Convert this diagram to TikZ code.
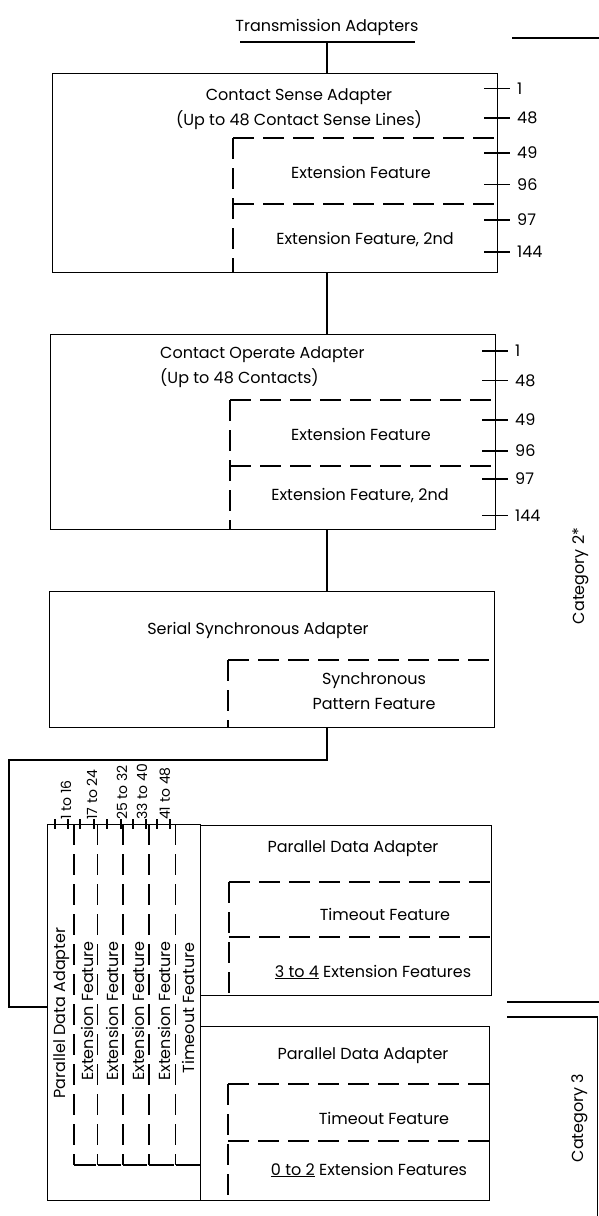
\documentclass[tikz,border=0pt]{standalone}
\usepackage{fontspec}
\setmainfont{Poppins}
\begin{document}
\begin{tikzpicture}[x=1pt,y=-1pt,
  every node/.style={font=\fontsize{16}{25}\selectfont, inner sep=0pt},
  solidbox/.style={draw, line width=1.1pt, anchor=north west},
  dsh/.style={line width=1.1pt, dash pattern=on 21pt off 9pt},
  ln/.style={line width=1.1pt},
  rot/.style={rotate=90},
  small/.style={font=\fontsize{14}{18}\selectfont}]
\useasboundingbox (0,0) rectangle (599,1216);

% title
\node (title) at (327,27) {Transmission Adapters};
\draw[ln] (240,42) -- (415,42);
\coordinate (tbase) at (327,42);

% ---------- box 1 ----------
\node[solidbox, minimum width=445.4pt, minimum height=199.4pt] (box1) at (51.6,72.6) {};
\draw[ln] (tbase) -- (tbase |- box1.north);
\node[align=center] (cs) at (299,109.5) {Contact Sense Adapter\\(Up to 48 Contact Sense Lines)};
\draw[dsh] (233,138) -- (497,138);
\draw[dsh] (233,138) -- (233,272);
\draw[dsh] (233,204) -- (497,204);
\node (e1a) at (361,172) {Extension Feature};
\node (e1b) at (365,240) {Extension Feature, 2nd};
\foreach \yy/\lab in {88.6/1,118/48,153/49,184.5/96,220/97,252/144}{
  \draw[ln] (484,\yy) -- (510,\yy);
  \node[anchor=west] at (517,\yy) {\lab};
}

% ---------- box 2 ----------
\node[solidbox, minimum width=445.3pt, minimum height=195.5pt] (box2) at (49.7,333.5) {};
\draw[ln] (tbase |- box1.south) -- (tbase |- box2.north);
\node[align=left, anchor=west] (co) at (160,367.5) {Contact Operate Adapter\\(Up to 48 Contacts)};
\draw[dsh] (230,400) -- (495,400);
\draw[dsh] (230,400) -- (230,529);
\draw[dsh] (230,466) -- (495,466);
\node (e2a) at (361,434) {Extension Feature};
\node (e2b) at (360,496) {Extension Feature, 2nd};
\foreach \yy/\lab in {351/1,380.5/48,420/49,451/96,479/97,515.7/144}{
  \draw[ln] (482,\yy) -- (508,\yy);
  \node[anchor=west] at (515,\yy) {\lab};
}

% ---------- box 3 ----------
\node[solidbox, minimum width=444.5pt, minimum height=136pt] (box3) at (49,591) {};
\draw[ln] (tbase |- box2.south) -- (tbase |- box3.north);
\node (ssa) at (258,630.5) {Serial Synchronous Adapter};
\draw[dsh] (228,660) -- (493.5,660);
\draw[dsh] (228,660) -- (228,727);
\node[align=center] (spf) at (374,691) {Synchronous\\Pattern Feature};

% ---------- parallel data adapters ----------
\node[solidbox, minimum width=153pt, minimum height=376pt] (tall) at (47,824) {};
\node[solidbox, minimum width=290.7pt, minimum height=170pt] (pda1) at (200,825) {};
\node[solidbox, minimum width=289pt, minimum height=174pt] (pda2) at (200,1026) {};

\coordinate (bend) at (9,760);
\coordinate (entry) at (47,1007);
\draw[ln] (tbase |- box3.south) |- (bend) |- (entry);

% nested feature columns
\foreach \xa/\xb in {74/95.7,97.7/121,123/147,149/173.7,175.7/200}{
  \draw[dsh] (\xa,824) -- (\xa,1165);
  \draw[ln] (\xa,1165) -- (\xb,1165);
}
% top ticks
\foreach \xx in {55,68,80,94,107,121,133,146,157,170}{
  \draw[ln] (\xx,819) -- (\xx,829);
}
\foreach \xx/\lab in {66/1 to 16,92/17 to 24,122/25 to 32,142/33 to 40,165/41 to 48}{
  \node[rot, small, anchor=west] at (\xx,820) {\lab};
}
\node[rot] (lpda) at (62,1013) {Parallel Data Adapter};
\node[rot] (lx1) at (87,1011) {Extension Feature};
\node[rot] (lx2) at (112,1011) {Extension Feature};
\node[rot] (lx3) at (138,1011) {Extension Feature};
\node[rot] (lx4) at (164,1011) {Extension Feature};
\node[rot] (lto) at (188,1008) {Timeout Feature};

% PDA 1 contents
\node (p1t) at (353,849) {Parallel Data Adapter};
\draw[dsh] (229,882) -- (490.7,882);
\draw[dsh] (229,882) -- (229,995);
\draw[dsh] (229,937) -- (490.7,937);
\node (p1to) at (385,914) {Timeout Feature};
\node (p1x) at (373,972) {\underline{3 to 4} Extension Features};

% PDA 2 contents
\node (p2t) at (363,1056) {Parallel Data Adapter};
\draw[dsh] (228,1084) -- (489,1084);
\draw[dsh] (228,1084) -- (228,1200);
\draw[dsh] (228,1141) -- (489,1141);
\node (p2to) at (384,1118) {Timeout Feature};
\node (p2x) at (369,1170) {\underline{0 to 2} Extension Features};

% category brackets
\draw[ln] (512,38) -- (599,38);
\draw[ln] (507,1002) -- (599,1002);
\draw[ln] (507,1017) -- (597.5,1017) -- (597.5,1216);
\node[rot] (cat2) at (581,576) {Category 2*};
\node[rot] (cat3) at (580,1118) {Category 3};
\end{tikzpicture}
\end{document}
